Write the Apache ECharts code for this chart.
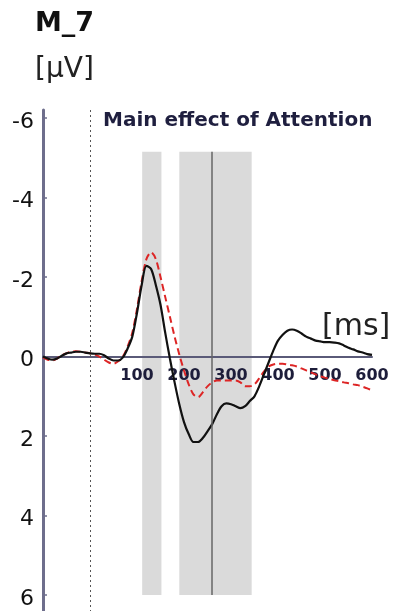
<!DOCTYPE html>
<html>
<head>
<meta charset="utf-8">
<script src="https://cdn.jsdelivr.net/npm/echarts@6/dist/echarts.min.js"></script>
<style>html,body{margin:0;padding:0;background:#fff;}#c{width:398px;height:611px;}</style>
</head>
<body>
<div id="c"></div>
<script>
const times = [-100,-90,-80,-70,-60,-50,-40,-30,-20,-10,0,10,20,30,40,50,60,70,80,90,100,110,120,130,140,150,160,170,180,190,200,210,220,230,240,250,260,270,280,290,300,310,320,330,340,350,360,370,380,390,400,410,420,430,440,450,460,470,480,490,500,510,520,530,540,550,560,570,580,590,600];
const blackWave = [0.0,0.05,0.08,0.05,-0.02,-0.08,-0.1,-0.12,-0.12,-0.1,-0.08,-0.07,-0.07,-0.03,0.05,0.1,0.1,0.02,-0.2,-0.5,-1.1,-1.8,-2.28,-2.2,-1.8,-1.3,-0.6,0.05,0.65,1.2,1.65,1.95,2.15,2.15,2.05,1.88,1.7,1.45,1.25,1.18,1.2,1.25,1.3,1.25,1.12,1.0,0.75,0.45,0.15,-0.15,-0.4,-0.55,-0.65,-0.68,-0.65,-0.58,-0.5,-0.45,-0.4,-0.38,-0.36,-0.36,-0.35,-0.33,-0.28,-0.22,-0.18,-0.13,-0.1,-0.06,-0.04];
const redWave = [0.02,0.08,0.1,0.05,-0.03,-0.08,-0.12,-0.13,-0.12,-0.1,-0.08,-0.05,0.0,0.08,0.15,0.18,0.12,0.0,-0.25,-0.6,-1.2,-1.9,-2.45,-2.62,-2.45,-2.0,-1.5,-1.0,-0.5,-0.05,0.35,0.7,0.95,1.02,0.9,0.75,0.65,0.6,0.6,0.6,0.6,0.6,0.65,0.75,0.75,0.7,0.55,0.38,0.25,0.2,0.18,0.18,0.2,0.22,0.25,0.3,0.35,0.4,0.45,0.5,0.53,0.56,0.6,0.62,0.65,0.67,0.7,0.72,0.76,0.8,0.85];
const yTicks = [-6,-4,-2,0,2,4,6];
const xTickLabels = [100,200,300,400,500,600];
const effectWindows = [[111,152],[190,344]];
const bandRange = [-5.15, 6.0];
const markerTime = 258;
const stimulusTime = 0;

const chart = echarts.init(document.getElementById('c'), null, {renderer:'canvas'});
const font = 'DejaVu Sans';
const H = 611;
const option = {
  animation:false,
  backgroundColor:'#ffffff',
  grid:{left:43, right:26, top:110, bottom:0, outerBoundsMode:'none', containLabel:false},
  xAxis:[{
    type:'value', min:-100, max:600, interval:100, z:2,
    axisLine:{onZero:true, lineStyle:{color:'#5a5a78', width:2}},
    axisTick:{show:false},
    splitLine:{show:false},
    axisLabel:{show:false}
  },{
    type:'value', min:-100, max:600, interval:100, position:'bottom', offset:0, z:2,
    axisLine:{show:false, onZero:false},
    axisTick:{show:false},
    splitLine:{show:false},
    axisLabel:{
      formatter:function(v){return xTickLabels.indexOf(v)>=0 ? String(v) : '';},
      fontFamily:font, fontWeight:'bold', fontSize:16, color:'#1d1d3a', margin:11
    }
  }],
  yAxis:{
    type:'value', inverse:true, min:-6.2, max:6.4, z:2,
    axisLine:{show:true, onZero:false, lineStyle:{color:'#6e6e8c', width:3}},
    axisTick:{show:true, inside:true, length:4, customValues:yTicks, lineStyle:{color:'#6e6e8c', width:1.5}},
    splitLine:{show:false},
    axisLabel:{customValues:yTicks, fontFamily:font, fontSize:22, color:'#111', margin:9,
      verticalAlign:'top', lineHeight:8,
      formatter:function(v){return String(v);}}
  },
  series:[
    {
      type:'line', data:[], z:1, silent:true,
      markArea:{silent:true, itemStyle:{color:'#dadada'},
        data:effectWindows.map(w=>[{coord:[w[0],bandRange[0]]},{coord:[w[1],bandRange[1]]}])},
      markLine:{silent:true, symbol:['none','none'], label:{show:false},
        data:[
          [{coord:[markerTime,bandRange[0]], lineStyle:{color:'#666', width:1.5, type:'solid'}},{coord:[markerTime,bandRange[1]]}],
          {xAxis:stimulusTime, lineStyle:{color:'#555', width:1, type:[2,3]}}
        ]}
    },
    {
      type:'line', name:'red', z:3, smooth:0.3, symbol:'none',
      data:times.map((t,i)=>[t,redWave[i]]),
      lineStyle:{color:'#dd2525', width:2, type:[7,4]}
    },
    {
      type:'line', name:'black', z:4, smooth:0.3, symbol:'none',
      data:times.map((t,i)=>[t,blackWave[i]]),
      lineStyle:{color:'#111111', width:2.2}
    }
  ],
  graphic:[
    {type:'text', left:35, top:10, style:{text:'M_7', font:'bold 27px "DejaVu Sans"', fill:'#111'}},
    {type:'text', left:35, top:56, style:{text:'[µV]', font:'28px "DejaVu Sans"', fill:'#222'}},
    {type:'text', left:103, top:111, style:{text:'Main effect of Attention', font:'bold 20px "DejaVu Sans"', fill:'#1f1f3f'}},
    {type:'text', left:322, top:312, style:{text:'[ms]', font:'30px "DejaVu Sans"', fill:'#222'}}
  ]
};
chart.setOption(option);
// place the tick-label axis at the zero baseline
const zeroY = chart.convertToPixel({yAxisIndex:0}, 0);
chart.setOption({xAxis:[{}, {offset: zeroY - H}]});
</script>
</body>
</html>
